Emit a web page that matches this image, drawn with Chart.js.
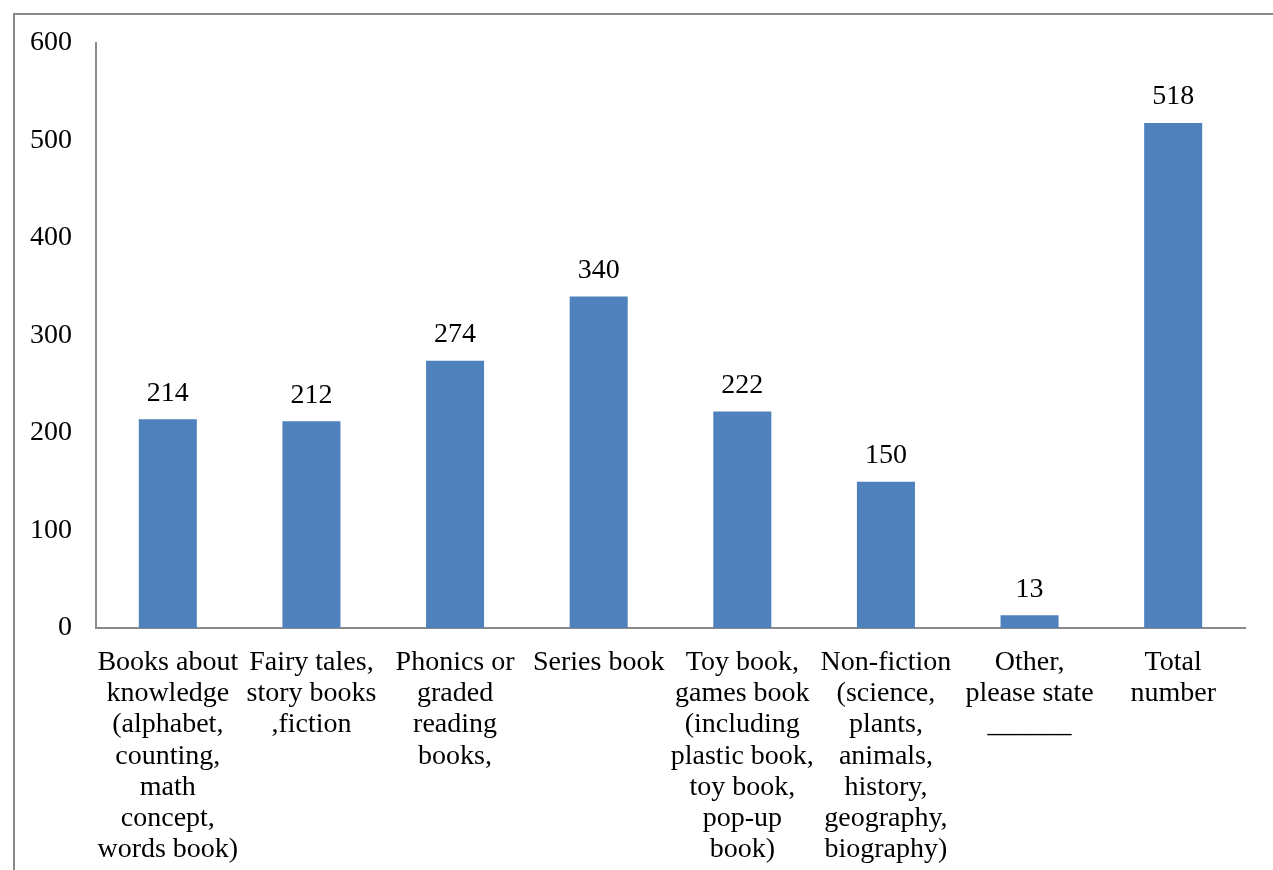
<!DOCTYPE html>
<html>
<head>
<meta charset="utf-8">
<script src="https://cdn.jsdelivr.net/npm/chart.js@4"></script>
<style>
  body { margin: 0; background: #fff; overflow: hidden; }
  #frame {
    position: absolute; left: 13px; top: 13px; width: 1400px; height: 1000px;
    border-top: 2px solid #8a8a8a; border-left: 2px solid #8a8a8a;
  }
  #chart { position: absolute; left: 15px; top: 15px; }
</style>
</head>
<body>
<div id="frame"></div>
<canvas id="chart" width="1258" height="855"></canvas>
<script>
const categories = [
  ["Books about", "knowledge", "(alphabet,", "counting,", "math", "concept,", "words book)"],
  ["Fairy tales,", "story books", ",fiction"],
  ["Phonics or", "graded", "reading", "books,"],
  ["Series book"],
  ["Toy book,", "games book", "(including", "plastic book,", "toy book,", "pop-up", "book)"],
  ["Non-fiction", "(science,", "plants,", "animals,", "history,", "geography,", "biography)"],
  ["Other,", "please state", "______"],
  ["Total", "number"]
];
const counts = [214, 212, 274, 340, 222, 150, 13, 518];
const yTicks = [0, 100, 200, 300, 400, 500, 600];

const serif = "'Liberation Serif', 'Times New Roman', serif";

// draw the value above each bar
const valueLabels = {
  id: 'valueLabels',
  afterDatasetsDraw(chart) {
    const ctx = chart.ctx;
    const meta = chart.getDatasetMeta(0);
    ctx.save();
    ctx.font = '28px ' + serif;
    ctx.fillStyle = '#000';
    ctx.textAlign = 'center';
    ctx.textBaseline = 'middle';
    meta.data.forEach((bar, i) => {
      ctx.fillText(String(counts[i]), bar.x, bar.y - 26);
    });
    ctx.restore();
  }
};

new Chart(document.getElementById('chart'), {
  type: 'bar',
  data: {
    labels: categories,
    datasets: [{
      data: counts,
      backgroundColor: '#4F81BD',
      borderWidth: 0,
      barPercentage: 0.8,
      categoryPercentage: 0.505
    }]
  },
  options: {
    responsive: false,
    animation: false,
    layout: { padding: { top: 28, right: 28, left: 0, bottom: 0 } },
    plugins: {
      legend: { display: false },
      tooltip: { enabled: false }
    },
    scales: {
      x: {
        grid: { display: false, drawTicks: false },
        border: { display: true, color: '#8a8a8a', width: 2 },
        ticks: {
          color: '#000',
          font: { family: serif, size: 28, lineHeight: 1.115 },
          autoSkip: false,
          maxRotation: 0,
          minRotation: 0,
          padding: 19
        },
        afterFit(scale) {
          scale.height = 242;
          scale.paddingLeft = 0;
          scale.paddingRight = 0;
        }
      },
      y: {
        min: 0,
        max: 600,
        grid: { display: false, drawTicks: false },
        border: { display: true, color: '#8a8a8a', width: 2 },
        afterBuildTicks(scale) { scale.ticks = yTicks.map(v => ({ value: v })); },
        ticks: {
          color: '#000',
          font: { family: serif, size: 28 },
          padding: 24
        },
        afterFit(scale) {
          scale.width = 81;
          scale.paddingTop = 0;
          scale.paddingBottom = 0;
        }
      }
    }
  },
  plugins: [valueLabels]
});
</script>
</body>
</html>
